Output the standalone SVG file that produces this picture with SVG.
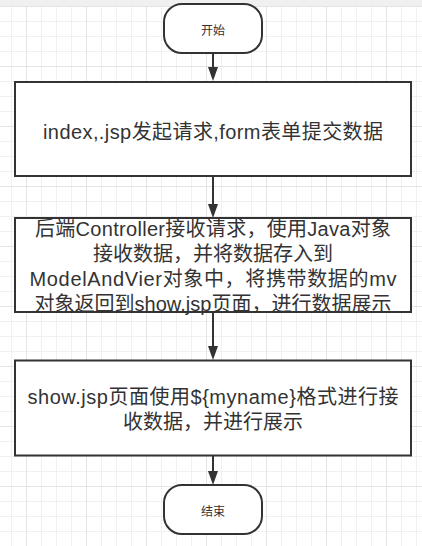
<svg xmlns="http://www.w3.org/2000/svg" width="422" height="546" viewBox="0 0 422 546">
  <defs>
    <pattern id="minor" patternUnits="userSpaceOnUse" x="11" y="6" width="15" height="15">
      <path d="M0.5 0V15M0 0.5H15" stroke="#f0f0f0" stroke-width="1" fill="none"/>
    </pattern>
    <pattern id="major" patternUnits="userSpaceOnUse" x="26" y="6" width="60" height="60">
      <path d="M0.5 0V60M0 0.5H60" stroke="#e4e4e4" stroke-width="1" fill="none"/>
    </pattern>
    <style>
      .shape { fill: #ffffff; stroke: #333333; stroke-width: 2; }
      .edge { fill: none; stroke: #333333; stroke-width: 2; }
      .head { fill: #333333; stroke: none; }
      .big { font-family: "Liberation Sans", "Noto Sans CJK SC", sans-serif; font-size: 20px; fill: #333333; text-anchor: middle; dominant-baseline: central; }
      .small { font-family: "Noto Sans CJK SC", sans-serif; font-size: 12px; fill: #333333; text-anchor: middle; dominant-baseline: central; }
    </style>
  </defs>
  <rect x="0" y="0" width="422" height="546" fill="#ffffff"/>
  <rect x="0" y="0" width="422" height="546" fill="url(#minor)"/>
  <rect x="0" y="0" width="422" height="546" fill="url(#major)"/>
  <rect x="0" y="0" width="422" height="6" fill="#f0f0f0"/>

  <g id="connectors">
    <path class="edge" d="M213 53V67"/>
    <path class="head" d="M208 67L218 67L213 81Z"/>
    <path class="edge" d="M213 176V204"/>
    <path class="head" d="M208 204L218 204L213 218Z"/>
    <path class="edge" d="M213 312V346"/>
    <path class="head" d="M208 346L218 346L213 360Z"/>
    <path class="edge" d="M213 455V471"/>
    <path class="head" d="M208 471L218 471L213 485Z"/>
  </g>

  <g id="start">
    <rect class="shape" x="164" y="4" width="98" height="49" rx="18" ry="18"/>
    <text class="small" x="213" y="29">开始</text>
  </g>

  <g id="step1">
    <rect class="shape" x="15" y="82" width="396" height="94"/>
    <text class="big" x="213" y="131.7" textLength="340" lengthAdjust="spacing">index,.jsp发起请求,form表单提交数据</text>
  </g>

  <g id="step2">
    <rect class="shape" x="15" y="218" width="396" height="94"/>
    <text class="big" x="213" y="229.3" textLength="356" lengthAdjust="spacing">后端Controller接收请求，使用Java对象</text>
    <text class="big" x="213" y="254.3">接收数据，并将数据存入到</text>
    <text class="big" x="213" y="279.3" textLength="367" lengthAdjust="spacing">ModelAndVier对象中，将携带数据的mv</text>
    <text class="big" x="213" y="304.3" textLength="357" lengthAdjust="spacing">对象返回到show.jsp页面，进行数据展示</text>
  </g>

  <g id="step3">
    <rect class="shape" x="15" y="360.5" width="396" height="95"/>
    <text class="big" x="213" y="396.7" textLength="371" lengthAdjust="spacing">show.jsp页面使用${myname}格式进行接</text>
    <text class="big" x="213" y="421.7">收数据，并进行展示</text>
  </g>

  <g id="end">
    <rect class="shape" x="164" y="485" width="98" height="49" rx="18" ry="18"/>
    <text class="small" x="213" y="510.7">结束</text>
  </g>
</svg>
